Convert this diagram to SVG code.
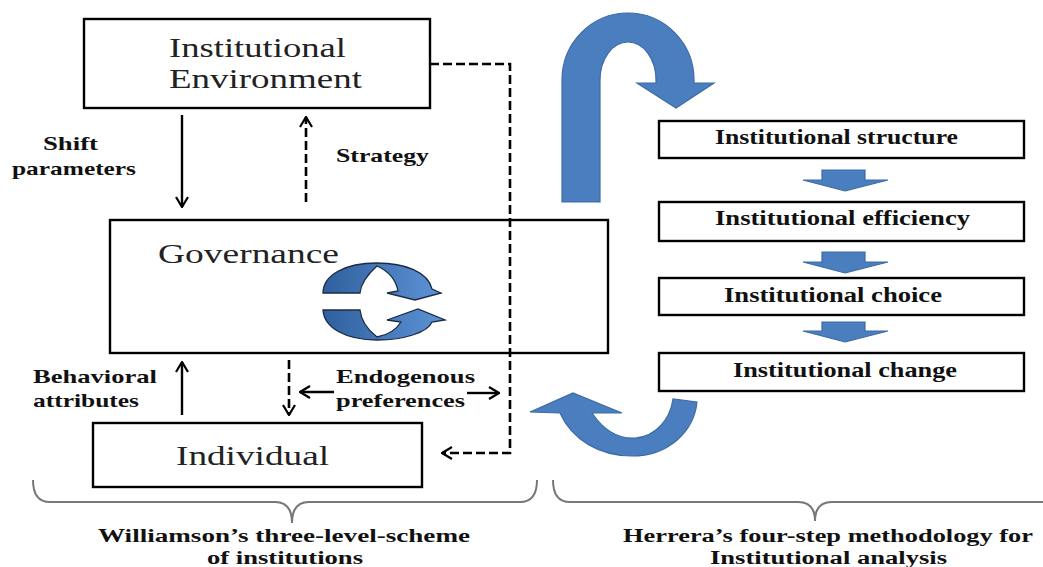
<svg xmlns="http://www.w3.org/2000/svg" width="1043" height="567" viewBox="0 0 1043 567">
<style>
.box{fill:#fff;stroke:#000;stroke-width:2.4}
.big{font-family:"Liberation Serif","Times New Roman",serif;font-size:27px;fill:#222}
.lbl{font-family:"Liberation Serif","Times New Roman",serif;font-size:19px;font-weight:bold;fill:#111}
.step{font-family:"Liberation Serif","Times New Roman",serif;font-size:20px;font-weight:bold;fill:#111}
.cap{font-family:"Liberation Serif","Times New Roman",serif;font-size:18.5px;font-weight:bold;fill:#111}
.solid{fill:none;stroke:#000;stroke-width:2.4}
.dash{fill:none;stroke:#000;stroke-width:2.6;stroke-dasharray:9 4}
.blue{fill:#4a7ebe;stroke:#3d6ba6;stroke-width:1.2}
.brace{fill:none;stroke:#777;stroke-width:2}
</style>
<defs>
<marker id="arr" viewBox="0 0 12 14" refX="11" refY="7" markerWidth="12" markerHeight="14" markerUnits="userSpaceOnUse" orient="auto">
<path d="M1,1 L11,7 L1,13" fill="none" stroke="#000" stroke-width="2.2" stroke-dasharray="none"/>
</marker>
<linearGradient id="icg" x1="0" y1="0" x2="1" y2="0">
<stop offset="0" stop-color="#2f5f9e"/>
<stop offset="1" stop-color="#5d93d6"/>
</linearGradient>
</defs>
<rect width="1043" height="567" fill="#fff"/>

<g id="node-env">
<rect class="box" x="84" y="19" width="346" height="89"/>
<text class="big" x="169" y="57" textLength="177" lengthAdjust="spacingAndGlyphs">Institutional</text>
<text class="big" x="169" y="88" textLength="193" lengthAdjust="spacingAndGlyphs">Environment</text>
</g>

<g id="node-gov">
<rect class="box" x="110" y="220" width="498" height="133"/>
<text class="big" x="158" y="263" font-size="25" fill="#333" textLength="181" lengthAdjust="spacingAndGlyphs">Governance</text>
<g id="cycle-icon" fill="url(#icg)" stroke="#1c2c44" stroke-width="1.3">
<path d="M323,293 C323,275 345,263 377,263 C405,263 428,272 432,289 L441,293 L415,300 L387,293 L398,291 C396,280 388,271 377,266 C368,274 361,283 360,293 Z"/>
<path d="M323,310 C324,328 346,340 377,340 C405,340 428,332 432,322 L445,320 L418,309 L387,320 L401,322 C396,330 388,335 377,337 C368,330 361,320 360,310 Z"/>
</g>
</g>

<g id="node-ind">
<rect class="box" x="93" y="423" width="329" height="64"/>
<text class="big" x="176" y="465" textLength="153" lengthAdjust="spacingAndGlyphs">Individual</text>
</g>

<g id="node-s1">
<rect class="box" x="659" y="121" width="365" height="37"/>
<text class="step" x="715" y="144" textLength="243" lengthAdjust="spacingAndGlyphs">Institutional structure</text>
</g>
<g id="node-s2">
<rect class="box" x="659" y="202" width="365" height="39"/>
<text class="step" x="715" y="225" textLength="255" lengthAdjust="spacingAndGlyphs">Institutional efficiency</text>
</g>
<g id="node-s3">
<rect class="box" x="659" y="278" width="365" height="37"/>
<text class="step" x="724" y="302" textLength="218" lengthAdjust="spacingAndGlyphs">Institutional choice</text>
</g>
<g id="node-s4">
<rect class="box" x="659" y="353" width="365" height="38"/>
<text class="step" x="733" y="377" textLength="224" lengthAdjust="spacingAndGlyphs">Institutional change</text>
</g>

<g id="connectors">
<line class="solid" x1="182" y1="115" x2="182" y2="207" marker-end="url(#arr)"/>
<line class="dash" x1="306" y1="202" x2="306" y2="117" marker-end="url(#arr)"/>
<line class="solid" x1="182" y1="415" x2="182" y2="362" marker-end="url(#arr)"/>
<line class="dash" x1="289" y1="360" x2="289" y2="415" marker-end="url(#arr)"/>
<line class="solid" x1="334" y1="392" x2="300" y2="392" marker-end="url(#arr)"/>
<line class="solid" x1="467" y1="393" x2="499" y2="393" marker-end="url(#arr)"/>
<polyline class="dash" points="430,64 510,64 510,453 442,453" marker-end="url(#arr)"/>
<path class="blue" d="M845,191 L888,180 L865,180 L865,170 L822,170 L822,180 L803,180 Z"/>
<path class="blue" d="M845,273 L888,262 L865,262 L865,252 L822,252 L822,262 L803,262 Z"/>
<path class="blue" d="M845,342 L888,331 L865,331 L865,322 L822,322 L822,331 L803,331 Z"/>
<path class="blue" d="M562,202 L562,80 A66,67 0 0 1 694,80 L694,83 L714,83 L676,108 L637,83 L656,83 L656,80 A28,38 0 0 0 600,80 L600,202 Z"/>
<path class="blue" d="M530,412 L573,393 L622,413 L592,413 C605,432 620,439 635,438 C655,437 670,420 673,399 L697,402 C694,432 668,456 632,456 C600,456 572,440 560,413 Z"/>
</g>

<g id="labels">
<text class="lbl" x="43" y="150" textLength="55" lengthAdjust="spacingAndGlyphs">Shift</text>
<text class="lbl" x="12" y="175" textLength="124" lengthAdjust="spacingAndGlyphs">parameters</text>
<text class="lbl" x="336" y="162" textLength="93" lengthAdjust="spacingAndGlyphs">Strategy</text>
<text class="lbl" x="33" y="383" textLength="124" lengthAdjust="spacingAndGlyphs">Behavioral</text>
<text class="lbl" x="33" y="407" textLength="106" lengthAdjust="spacingAndGlyphs">attributes</text>
<text class="lbl" x="336" y="383" textLength="139" lengthAdjust="spacingAndGlyphs">Endogenous</text>
<text class="lbl" x="336" y="407" textLength="129" lengthAdjust="spacingAndGlyphs">preferences</text>
</g>

<g id="braces">
<path class="brace" d="M33,480 Q33,502 50,502 L275,502 Q292,502 292,523 Q292,502 309,502 L520,502 Q537,502 537,480"/>
<path class="brace" d="M553,480 Q553,502 570,502 L798,502 Q815,502 815,521 Q815,502 832,502 L1043,502"/>
<text class="cap" x="98" y="542" textLength="372" lengthAdjust="spacingAndGlyphs">Williamson’s three-level-scheme</text>
<text class="cap" x="207" y="564" textLength="156" lengthAdjust="spacingAndGlyphs">of institutions</text>
<text class="cap" x="623" y="542" textLength="410" lengthAdjust="spacingAndGlyphs">Herrera’s four-step methodology for</text>
<text class="cap" x="710" y="564" textLength="237" lengthAdjust="spacingAndGlyphs">Institutional analysis</text>
</g>
</svg>
